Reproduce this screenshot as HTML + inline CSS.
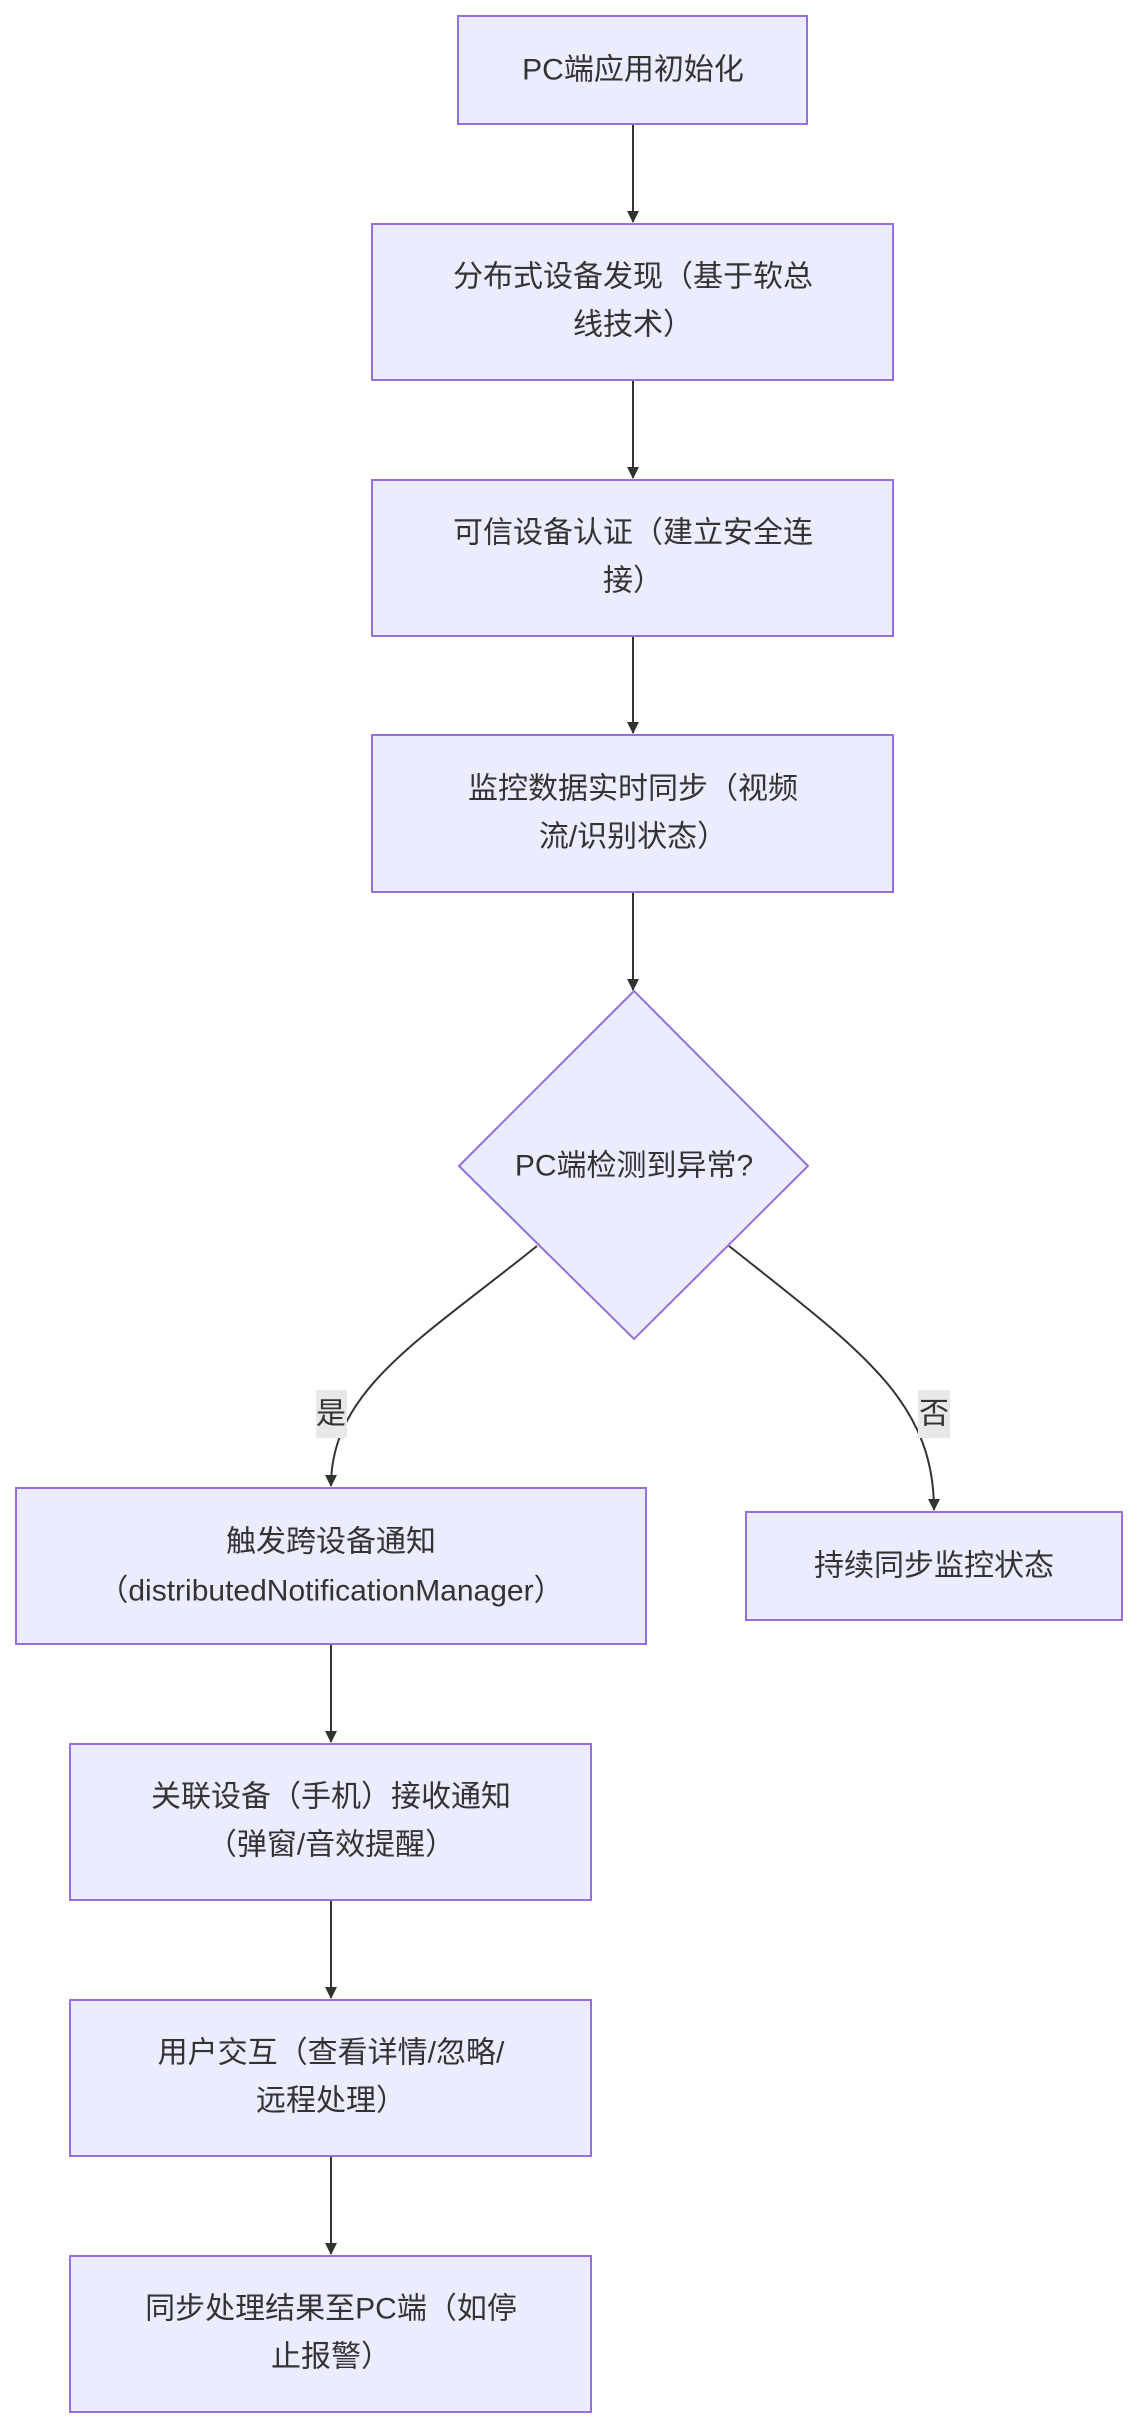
<!DOCTYPE html>
<html><head><meta charset="utf-8"><style>
html,body{margin:0;padding:0;background:#fff;}
svg{display:block;}
text{font-family:"Liberation Sans","Noto Sans CJK SC",sans-serif;font-size:30px;fill:#333;text-anchor:middle;dominant-baseline:central;}
.n{fill:#ECECFF;stroke:#9370DB;stroke-width:2;}
.e{fill:none;stroke:#333;stroke-width:2;}
</style></head><body>
<svg width="1138" height="2428" viewBox="0 0 1138 2428" xmlns="http://www.w3.org/2000/svg">
<defs><marker id="a" viewBox="0 0 12 12" refX="11" refY="6" markerWidth="12" markerHeight="12" markerUnits="userSpaceOnUse" orient="auto"><path d="M0,0 L12,6 L0,12 z" fill="#333"/></marker></defs>
<g class="edges">
<path class="e" d="M633,124 L633,222" marker-end="url(#a)"/>
<path class="e" d="M633,380 L633,478" marker-end="url(#a)"/>
<path class="e" d="M633,636 L633,733" marker-end="url(#a)"/>
<path class="e" d="M633,892 L633,990" marker-end="url(#a)"/>
<path class="e" d="M537,1246 C420,1340 331,1390 331,1486" marker-end="url(#a)"/>
<path class="e" d="M729,1246 C860,1350 934,1400 934,1510" marker-end="url(#a)"/>
<path class="e" d="M331,1644 L331,1742" marker-end="url(#a)"/>
<path class="e" d="M331,1900 L331,1998" marker-end="url(#a)"/>
<path class="e" d="M331,2156 L331,2254" marker-end="url(#a)"/>
</g>
<rect class="n" x="458" y="16" width="349" height="108"/>
<text x="633" y="70">PC端应用初始化</text>
<rect class="n" x="372" y="224" width="521" height="156"/>
<text x="633" y="277">分布式设备发现（基于软总</text>
<text x="633" y="325">线技术）</text>
<rect class="n" x="372" y="480" width="521" height="156"/>
<text x="633" y="533">可信设备认证（建立安全连</text>
<text x="633" y="581">接）</text>
<rect class="n" x="372" y="735" width="521" height="157"/>
<text x="633" y="789">监控数据实时同步（视频</text>
<text x="633" y="837">流/识别状态）</text>
<polygon class="n" points="634,991 808,1166 634,1339 459,1166"/>
<text x="634" y="1166">PC端检测到异常?</text>
<rect x="316" y="1390" width="31" height="48" fill="#e8e8e8"/>
<text x="331" y="1414">是</text>
<rect x="918" y="1390" width="32" height="48" fill="#e8e8e8"/>
<text x="934" y="1414">否</text>
<rect class="n" x="16" y="1488" width="630" height="156"/>
<text x="331" y="1542">触发跨设备通知</text>
<text x="331" y="1591">（distributedNotificationManager）</text>
<rect class="n" x="746" y="1512" width="376" height="108"/>
<text x="934" y="1566">持续同步监控状态</text>
<rect class="n" x="70" y="1744" width="521" height="156"/>
<text x="331" y="1797">关联设备（手机）接收通知</text>
<text x="331" y="1845">（弹窗/音效提醒）</text>
<rect class="n" x="70" y="2000" width="521" height="156"/>
<text x="331" y="2053">用户交互（查看详情/忽略/</text>
<text x="331" y="2101">远程处理）</text>
<rect class="n" x="70" y="2256" width="521" height="156"/>
<text x="331" y="2309">同步处理结果至PC端（如停</text>
<text x="331" y="2357">止报警）</text>
</svg>
</body></html>
